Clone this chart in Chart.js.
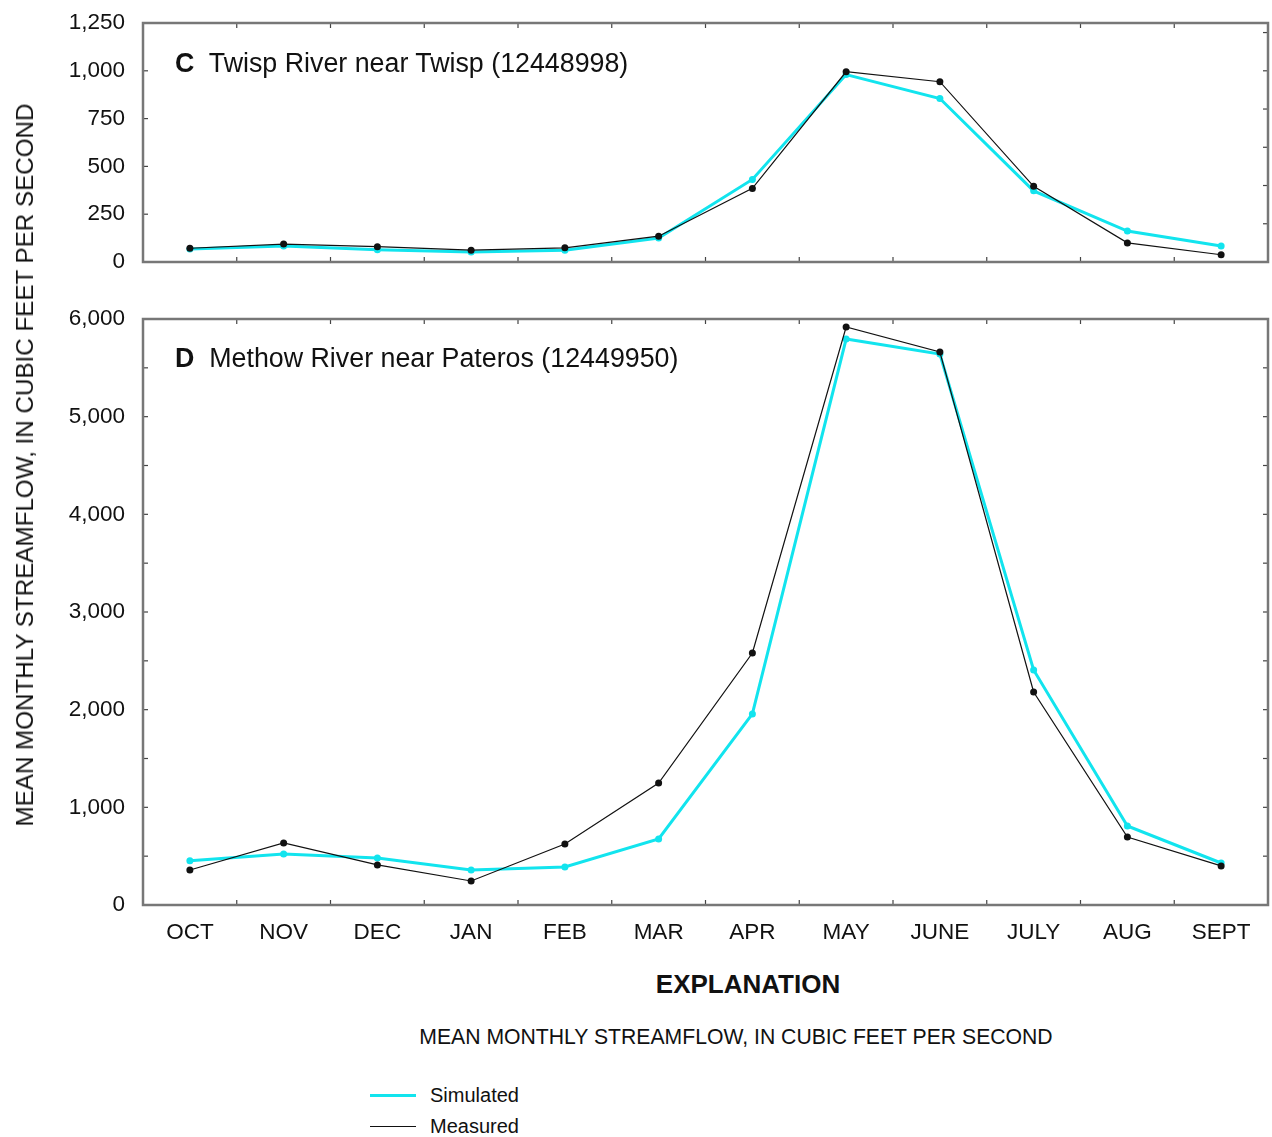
<!DOCTYPE html>
<html>
<head>
<meta charset="utf-8">
<script src="https://cdn.jsdelivr.net/npm/chart.js@4.4.1/dist/chart.umd.min.js"></script>
<style>
    html, body { margin: 0; padding: 0; background: #fff; }
    body { width: 1272px; height: 1137px; position: relative; overflow: hidden; font-family: 'Liberation Sans', Arial, sans-serif; color: #111; }
    .panel { position: absolute; left: 0; width: 1272px; }
    .panel-title { position: absolute; font-size: 26.8px; white-space: pre; line-height: 1; }
    .panel-title b { font-weight: bold; }
    #y-title { position: absolute; left: 25px; top: 465px; font-size: 24.2px; white-space: nowrap; transform: translate(-50%, -50%) rotate(-90deg); }
    #explanation { position: absolute; left: 748px; top: 984px; transform: translate(-50%, -50%); font-size: 26px; font-weight: bold; }
    #units { position: absolute; left: 736px; top: 1037px; transform: translate(-50%, -50%); font-size: 21.2px; white-space: nowrap; }
    .legend-item { position: absolute; left: 370px; height: 20px; display: flex; align-items: center; font-size: 20px; }
    .legend-item span.swatch { display: inline-block; width: 46px; margin-right: 14px; }
</style>
</head>
<body>
<div class="panel" style="top:0;height:285px"><canvas id="chart-twisp"></canvas></div>
<div class="panel" style="top:290px;height:665px"><canvas id="chart-methow"></canvas></div>
<div class="panel-title" style="left:175px;top:50px"><b>C</b>  Twisp River near Twisp (12448998)</div>
<div class="panel-title" style="left:175px;top:345px"><b>D</b>  Methow River near Pateros (12449950)</div>
<div id="y-title">MEAN MONTHLY STREAMFLOW, IN CUBIC FEET PER SECOND</div>
<div id="explanation">EXPLANATION</div>
<div id="units">MEAN MONTHLY STREAMFLOW, IN CUBIC FEET PER SECOND</div>
<div id="legend"></div>
<script>
    const months = ['OCT', 'NOV', 'DEC', 'JAN', 'FEB', 'MAR', 'APR', 'MAY', 'JUNE', 'JULY', 'AUG', 'SEPT'];

    // C Twisp River near Twisp
    const twispSimulated = [68, 84, 64, 52, 62, 125, 432, 980, 855, 372, 162, 84];
    const twispMeasured = [72, 94, 80, 62, 74, 135, 385, 995, 943, 396, 100, 38];

    // D Methow River near Pateros
    const methowSimulated = [452, 522, 480, 358, 390, 676, 1956, 5795, 5641, 2406, 809, 430];
    const methowMeasured = [358, 635, 410, 246, 625, 1249, 2580, 5918, 5662, 2181, 696, 400];

    const SIM_COLOR = '#12e4ee';
    const MEAS_COLOR = '#111111';

    Chart.defaults.font.family = "'Liberation Sans', Arial, sans-serif";
    Chart.defaults.color = '#111';

    // frame + inward tick marks, like the original plot
    const frameTicks = {
        id: 'frameTicks',
        afterDraw(chart, args, opts) {
            const { ctx, chartArea: a, scales } = chart;
            const x = scales.x;
            const y = scales.y;
            ctx.save();
            ctx.strokeStyle = '#444';
            ctx.lineWidth = 1.2;
            const tick = (x1, y1, x2, y2) => {
                ctx.beginPath();
                ctx.moveTo(x1, y1);
                ctx.lineTo(x2, y2);
                ctx.stroke();
            };
            for (let i = 0; i < months.length - 1; i++) {
                const px = (x.getPixelForValue(i) + x.getPixelForValue(i + 1)) / 2;
                tick(px, a.top, px, a.top + 5);
                tick(px, a.bottom, px, a.bottom - 5);
            }
            for (let v = opts.leftStep; v < y.max; v += opts.leftStep) {
                const py = y.getPixelForValue(v);
                tick(a.left, py, a.left + 5, py);
            }
            for (let v = opts.rightStep; v < y.max; v += opts.rightStep) {
                const py = y.getPixelForValue(v);
                tick(a.right, py, a.right - 5, py);
            }
            ctx.strokeStyle = '#777';
            ctx.lineWidth = 2.5;
            ctx.strokeRect(a.left, a.top, a.right - a.left, a.bottom - a.top);
            ctx.restore();
        }
    };

    function makeDatasets(simulated, measured) {
        return [
            {
                label: 'Measured',
                data: measured,
                borderColor: MEAS_COLOR,
                backgroundColor: MEAS_COLOR,
                borderWidth: 1.2,
                pointRadius: 3.5,
                pointBorderWidth: 0,
                order: 0,
            },
            {
                label: 'Simulated',
                data: simulated,
                borderColor: SIM_COLOR,
                backgroundColor: SIM_COLOR,
                borderWidth: 3,
                pointRadius: 3.5,
                pointBorderWidth: 0,
                order: 1,
            },
        ];
    }

    function makeChart(id, simulated, measured, yOpts) {
        return new Chart(document.getElementById(id), {
            type: 'line',
            data: { labels: months, datasets: makeDatasets(simulated, measured) },
            plugins: [frameTicks],
            options: {
                responsive: true,
                maintainAspectRatio: false,
                animation: false,
                locale: 'en-US',
                layout: { padding: { top: yOpts.padTop, right: 4, left: 0, bottom: 0 } },
                plugins: {
                    legend: { display: false },
                    tooltip: { enabled: false },
                    frameTicks: { leftStep: yOpts.leftStep, rightStep: yOpts.rightStep },
                },
                scales: {
                    x: {
                        offset: true,
                        grid: { display: false, drawTicks: false },
                        border: { display: false },
                        ticks: { display: yOpts.showX, padding: 14, font: { size: 22.5 }, color: '#111' },
                        afterFit: (scale) => { scale.height = yOpts.xHeight; },
                    },
                    y: {
                        min: 0,
                        max: yOpts.max,
                        grid: { display: false, drawTicks: false },
                        border: { display: false },
                        ticks: { stepSize: yOpts.labelStep, padding: 18, font: { size: 22.5 }, color: '#111' },
                        afterFit: (scale) => {
                            scale.width = 143;
                            scale.paddingTop = 0;
                            scale.paddingBottom = 0;
                        },
                    },
                },
            },
        });
    }

    function renderLegend(chart) {
        const legend = document.getElementById('legend');
        const items = chart.data.datasets.slice().sort((a, b) => b.order - a.order);
        items.forEach((ds, i) => {
            const div = document.createElement('div');
            div.className = 'legend-item';
            div.style.top = (1085 + i * 31) + 'px';
            const sw = document.createElement('span');
            sw.className = 'swatch';
            sw.style.borderTop = ds.borderWidth + 'px solid ' + ds.borderColor;
            div.appendChild(sw);
            div.appendChild(document.createTextNode(ds.label));
            legend.appendChild(div);
        });
    }

    makeChart('chart-twisp', twispSimulated, twispMeasured, {
        max: 1250, labelStep: 250, leftStep: 250, rightStep: 200, padTop: 23, xHeight: 23, showX: false,
    });
    const methow = makeChart('chart-methow', methowSimulated, methowMeasured, {
        max: 6000, labelStep: 1000, leftStep: 500, rightStep: 500, padTop: 29, xHeight: 50, showX: true,
    });
    renderLegend(methow);
</script>
</body>
</html>
